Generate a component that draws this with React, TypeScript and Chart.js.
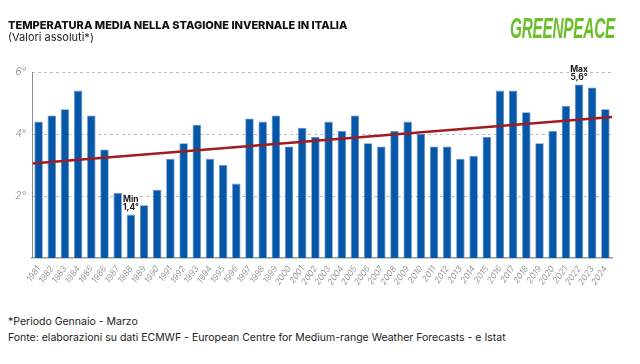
import React, { useEffect, useRef } from "react";
import { Chart, registerables } from "chart.js";

Chart.register(...registerables);

const years = [
  "1981", "1982", "1983", "1984", "1985", "1986", "1987", "1988", "1989", "1990",
  "1991", "1992", "1993", "1994", "1995", "1996", "1997", "1998", "1999", "2000",
  "2001", "2002", "2003", "2004", "2005", "2006", "2007", "2008", "2009", "2010",
  "2011", "2012", "2013", "2014", "2015", "2016", "2017", "2018", "2019", "2020",
  "2021", "2022", "2023", "2024",
];

const temperatures = [
  4.4, 4.6, 4.8, 5.4, 4.6, 3.5, 2.1, 1.4, 1.7, 2.2,
  3.2, 3.7, 4.3, 3.2, 3.0, 2.4, 4.5, 4.4, 4.6, 3.6,
  4.2, 3.9, 4.4, 4.1, 4.6, 3.7, 3.6, 4.1, 4.4, 4.0,
  3.6, 3.6, 3.2, 3.3, 3.9, 5.4, 5.4, 4.7, 3.7, 4.1,
  4.9, 5.6, 5.5, 4.8,
];

// trend line values at the left and right edges of the plot
const trendEnds = [3.05, 4.55];

const yTicks = [2, 4, 6];

const annotationTitles = ["Min", "Max"];
const annotationYears = ["1988", "2022"];

const fmt = (v: number) => v.toFixed(1).replace(".", ",") + "°";

const annotationPlugin = {
  id: "minMaxLabels",
  afterDatasetsDraw(chart: any) {
    const ctx = chart.ctx;
    const xs = chart.scales.x;
    const ys = chart.scales.y;
    const area = chart.chartArea;
    ctx.save();
    // solid y axis line
    ctx.strokeStyle = "#8a8a8a";
    ctx.lineWidth = 1;
    ctx.beginPath();
    ctx.moveTo(area.left + 0.5, area.top);
    ctx.lineTo(area.left + 0.5, area.bottom);
    ctx.stroke();
    annotationYears.forEach((yr, i) => {
      const idx = years.indexOf(yr);
      const v = temperatures[idx];
      const x = xs.getPixelForValue(idx);
      const y = ys.getPixelForValue(v);
      ctx.font = "bold 8.5px Inter, 'Noto Sans', sans-serif";
      ctx.textAlign = "center";
      ctx.textBaseline = "middle";
      const t1 = annotationTitles[i];
      const t2 = fmt(v);
      const w = Math.max(ctx.measureText(t1).width, ctx.measureText(t2).width);
      ctx.fillStyle = "#ffffff";
      ctx.fillRect(x - w / 2 - 1, y - 20, w + 2, 17);
      ctx.fillStyle = "#1a1a1a";
      ctx.fillText(t1, x, y - 15);
      ctx.fillText(t2, x, y - 7);
    });
    ctx.restore();
  },
};

export default function App() {
  const ref = useRef<HTMLCanvasElement>(null);

  useEffect(() => {
    if (!ref.current) return;
    const chart = new Chart(ref.current, {
      type: "bar",
      data: {
        labels: years,
        datasets: [
          {
            type: "line",
            data: [
              { x: 0, y: trendEnds[0] },
              { x: 1, y: trendEnds[1] },
            ],
            xAxisID: "x2",
            borderColor: "#9e1c22",
            borderWidth: 2.5,
            pointRadius: 0,
            order: 0,
          } as any,
          {
            type: "bar",
            data: temperatures,
            backgroundColor: "#0757a9",
            borderColor: "#5d8fcc",
            borderWidth: 0.8,
            barPercentage: 0.64,
            categoryPercentage: 1,
            grouped: false,
            order: 1,
          } as any,
        ],
      },
      options: {
        animation: false,
        responsive: false,
        layout: { padding: { left: 0, right: 28, top: 72, bottom: 0 } },
        plugins: { legend: { display: false }, tooltip: { enabled: false } },
        scales: {
          x: {
            type: "category",
            grid: { display: false, drawTicks: false },
            border: { color: "#9a9a9a", width: 1.5 },
            ticks: {
              autoSkip: false,
              minRotation: 55,
              maxRotation: 55,
              padding: 6,
              color: "#7e7e7e",
              font: { family: "Inter, 'Noto Sans', sans-serif", size: 8.5, style: "italic", weight: "300" },
            },
            afterFit: (s: any) => {
              s.height = 42;
            },
          },
          x2: {
            type: "linear",
            display: false,
            offset: false,
            grid: { offset: false },
            min: 0,
            max: 1,
          },
          y: {
            min: 0,
            max: 6,
            afterBuildTicks: (s: any) => {
              s.ticks = yTicks.map((v) => ({ value: v }));
            },
            grid: {
              color: "#bdbdbd",
              drawTicks: false,
            },
            border: { display: false, dash: [3, 3] },
            ticks: {
              padding: 6,
              color: "#8a8a8a",
              font: { family: "Inter, 'Noto Sans', sans-serif", size: 10, style: "italic", weight: "300" },
              callback: (v: any) => v + "°",
            },
            afterFit: (s: any) => {
              s.width = 32;
            },
          },
        },
      },
      plugins: [annotationPlugin],
    });
    return () => chart.destroy();
  }, []);

  return (
    <div style={{ position: "absolute", left: 0, top: 0, width: 640, height: 364, background: "#fff", overflow: "hidden", fontFamily: "Inter, 'Noto Sans', sans-serif" }}>
      <canvas ref={ref} width={640} height={300} style={{ position: "absolute", left: 0, top: 0, width: 640, height: 300 }} />
      <div style={{ position: "absolute", left: 8, top: 18, fontSize: 11, lineHeight: "14px", fontWeight: 800, color: "#111", whiteSpace: "nowrap" }}>
        TEMPERATURA MEDIA NELLA STAGIONE INVERNALE IN ITALIA
      </div>
      <div style={{ position: "absolute", left: 8, top: 30, fontSize: 11, lineHeight: "14px", fontWeight: 400, color: "#222", whiteSpace: "nowrap" }}>
        (Valori assoluti*)
      </div>
      <div style={{ position: "absolute", left: 510, top: 12, fontSize: 29, lineHeight: "32px", fontWeight: 900, fontStyle: "italic", color: "#6cbf2b", fontFamily: "'Liberation Sans', Arial, sans-serif", transform: "scaleX(0.53)", transformOrigin: "left top", whiteSpace: "nowrap", letterSpacing: -0.5 }}>
        GREENPEACE
      </div>
      <div style={{ position: "absolute", left: 8, top: 314, fontSize: 10.5, lineHeight: "15px", color: "#222", whiteSpace: "nowrap" }}>
        *Periodo Gennaio - Marzo
      </div>
      <div style={{ position: "absolute", left: 8, top: 330, fontSize: 10.5, lineHeight: "15px", color: "#222", whiteSpace: "nowrap" }}>
        Fonte: elaborazioni su dati ECMWF - European Centre for Medium-range Weather Forecasts - e Istat
      </div>
    </div>
  );
}
